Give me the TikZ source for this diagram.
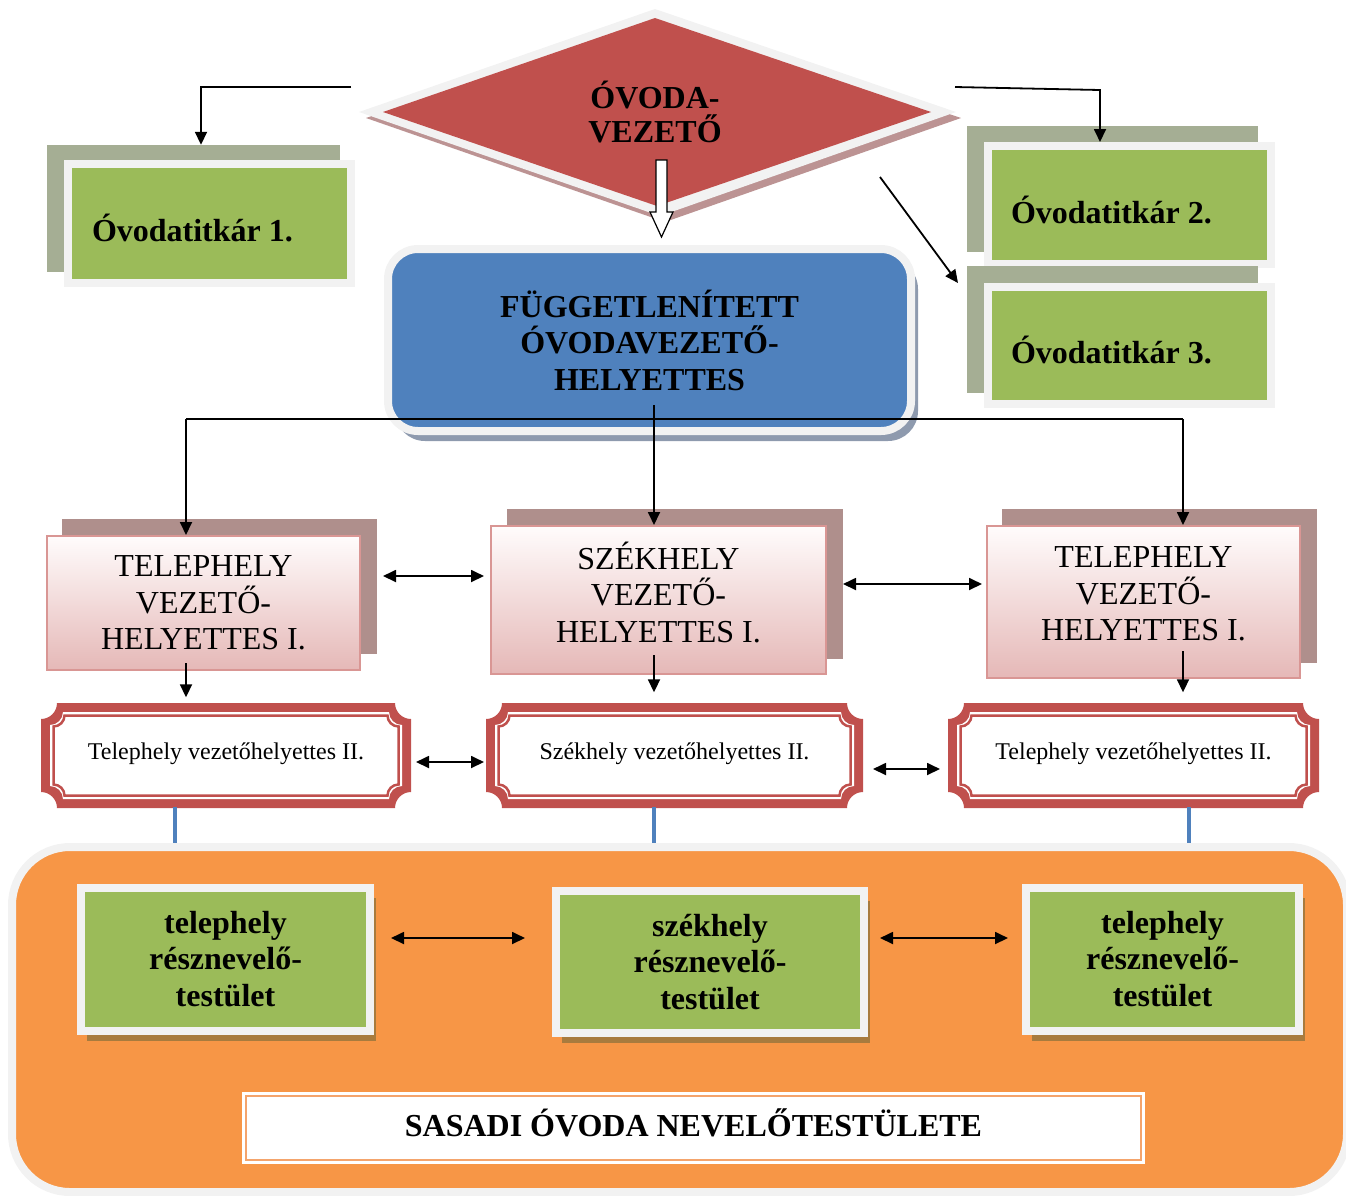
\documentclass[tikz,border=0pt]{standalone}
\usepackage{fontspec}
\setmainfont{Liberation Serif}
\usetikzlibrary{arrows.meta,shadows,calc}
\definecolor{redA}{HTML}{C0504D}
\definecolor{frm}{HTML}{F2F2F2}
\definecolor{grn}{HTML}{9BBB59}
\definecolor{gbk}{HTML}{A5AE94}
\definecolor{blu}{HTML}{4F81BD}
\definecolor{org}{HTML}{F79646}
\definecolor{ptop}{HTML}{FFFCFC}
\definecolor{pbot}{HTML}{E5B8B7}
\definecolor{pedge}{HTML}{D99694}
\definecolor{pbk}{HTML}{AF8F8C}
\definecolor{dshd}{HTML}{BC9393}
\definecolor{bshd}{HTML}{8E9AAE}
\definecolor{gshd}{HTML}{A87B3E}
\definecolor{oline}{HTML}{F4A46C}
\newcommand{\plq}[5]{(#1,#2+#5) .. controls (#1+0.55*#5,#2+#5) and (#1+#5,#2+0.55*#5) .. (#1+#5,#2) -- (#3-#5,#2) .. controls (#3-#5,#2+0.55*#5) and (#3-0.55*#5,#2+#5) .. (#3,#2+#5) -- (#3,#4-#5) .. controls (#3-0.55*#5,#4-#5) and (#3-#5,#4-0.55*#5) .. (#3-#5,#4) -- (#1+#5,#4) .. controls (#1+#5,#4-0.55*#5) and (#1+0.55*#5,#4-#5) .. (#1,#4-#5) -- cycle}
\newcommand{\plaquebg}[4]{%
  \fill[redA] \plq{#1}{#2}{#3}{#4}{16};
  \fill[white] \plq{#1+9}{#2+9}{#3-9}{#4-9}{13};
  \draw[redA, line width=2.5pt] \plq{#1+12.5}{#2+12.5}{#3-12.5}{#4-12.5}{11};}
\begin{document}
\begin{tikzpicture}[x=1pt,y=-1pt,
  big/.style={font=\fontsize{32}{36.5}\selectfont},
  bigb/.style={font=\bfseries\fontsize{32}{36.5}\selectfont},
  small/.style={font=\fontsize{24}{28}\selectfont},
  arr/.style={line width=1.8pt, -{Triangle[length=13pt,width=12pt]}},
  darr/.style={line width=1.8pt, {Triangle[length=13pt,width=12pt]}-{Triangle[length=13pt,width=12pt]}},
  plainline/.style={line width=1.8pt},
  gback/.style={fill=gbk, inner sep=0},
  gbox/.style={fill=grn, draw=frm, line width=8pt, inner sep=0, align=flush left, bigb, text height=36pt, text depth=0pt},
  gboxc/.style={fill=grn, draw=frm, line width=8pt, inner sep=0, align=center, bigb,
     drop shadow={shadow xshift=6pt, shadow yshift=-10pt, fill=gshd, opacity=1}},
  pback/.style={fill=pbk, inner sep=0},
  pbox/.style={draw=pedge, line width=2pt, top color=ptop, bottom color=pbot, inner sep=0, align=center, big},
  plaque/.style={inner sep=0, align=center, small},
  bluebox/.style={fill=blu, draw=frm, line width=8pt, rounded corners=30pt, inner sep=0, align=center, bigb,
     drop shadow={shadow xshift=7pt, shadow yshift=-10pt, fill=bshd, opacity=1}},
  bseg/.style={draw=blu, line width=4pt},
]
\useasboundingbox (0,0) rectangle (1346,1195);

% ---------- diamond ----------
\fill[dshd] (660,16) -- (961,118) -- (665,222) -- (366,118) -- cycle;
\fill[frm] (655,9) -- (956,112) -- (660,216) -- (359,112) -- cycle;
\fill[redA] (655,18) -- (931,112) -- (657,206) -- (383,112) -- cycle;
\node[bigb, align=center, font=\bfseries\fontsize{32}{34}\selectfont] (vez) at (655,112) {ÓVODA-\\VEZETŐ};
% hollow arrow
\filldraw[fill=white, draw=black, line width=1.2pt] (656,160) -- (667,160) -- (667,212) -- (673,212) -- (661.5,237) -- (650,212) -- (656,212) -- cycle;

% ---------- Óvodatitkár boxes ----------
\node[gback, minimum width=293, minimum height=127] (b1) at (193.5,208.5) {};
\node[gbox, minimum width=283, minimum height=119, text width=235] (f1) at (209.5,223.5) {Óvodatitkár 1.};
\node[gback, minimum width=291, minimum height=126] (b2) at (1112.5,189) {};
\node[gbox, minimum width=283, minimum height=118, text width=237] (f2) at (1129.5,205) {Óvodatitkár 2.};
\node[gback, minimum width=291, minimum height=127] (b3) at (1112.5,329.5) {};
\node[gbox, minimum width=283, minimum height=117, text width=237] (f3) at (1129.5,345.5) {Óvodatitkár 3.};

\coordinate (tl0) at (351,87);
\coordinate (tl1) at (201,87);
\draw[arr] (tl0) -- (tl1) -- (tl1 |- b1.north);
\coordinate (tr0) at (955,87);
\coordinate (tr1) at (1100,90);
\draw[arr] (tr0) -- (tr1) -- (tr1 |- f2.north);
\coordinate (dg0) at (880,177);
\coordinate (dg1) at (958,283);
\draw[arr] (dg0) -- (dg1);

% ---------- blue box ----------
\node[bluebox, minimum width=523, minimum height=182] (fg) at (649.5,340) {FÜGGETLENÍTETT\\ÓVODAVEZETŐ-\\HELYETTES};

% ---------- pink boxes ----------
\node[pback, minimum width=315, minimum height=135] (bL) at (219.5,586.5) {};
\node[pbox, minimum width=313, minimum height=134, text depth=-4pt] (pL) at (203.5,603) {TELEPHELY\\VEZETŐ-\\HELYETTES I.};
\node[pback, minimum width=336, minimum height=150] (bM) at (675,584) {};
\node[pbox, minimum width=335, minimum height=148, text depth=16pt] (pM) at (658.5,600) {SZÉKHELY\\VEZETŐ-\\HELYETTES I.};
\node[pback, minimum width=315, minimum height=154] (bR) at (1159.5,586) {};
\node[pbox, minimum width=313, minimum height=152, text depth=16pt] (pR) at (1143.5,602) {TELEPHELY\\VEZETŐ-\\HELYETTES I.};

% connectors from blue box
\coordinate (hL) at (186,419);
\coordinate (hR) at (1183,419);
\coordinate (vtop) at (654,405);
\draw[plainline] (hL) -- (hR);
\draw[arr] (hL) -- (hL |- pL.north);
\draw[arr] (hR) -- (hR |- pR.north);
\draw[arr] (vtop) -- (vtop |- pM.north);

\coordinate (a1) at (383,576);
\coordinate (a2) at (484,576);
\coordinate (a3) at (843,584);
\coordinate (a4) at (982,584);
\draw[darr] (a1) -- (a2);
\draw[darr] (a3) -- (a4);

% ---------- plaques ----------
\plaquebg{41}{703}{411}{808}
\plaquebg{486}{703}{863}{808}
\plaquebg{948}{703}{1319}{808}
\node[plaque, minimum width=370, minimum height=105] (qL) at (226,754) {Telephely vezetőhelyettes II.};
\node[plaque, minimum width=377, minimum height=105] (qM) at (674.5,754) {Székhely vezetőhelyettes II.};
\node[plaque, minimum width=371, minimum height=105] (qR) at (1133.5,754) {Telephely vezetőhelyettes II.};

\draw[arr] ([yshift=8pt]pL.south -| hL) -- ([yshift=4pt]qL.north -| hL);
\draw[arr] ([yshift=20pt]pM.south -| vtop) -- ([yshift=9pt]qM.north -| vtop);
\draw[arr] ([yshift=28pt]pR.south -| hR) -- ([yshift=9pt]qR.north -| hR);

\coordinate (a5) at (416,762);
\coordinate (a6) at (484,762);
\coordinate (a7) at (873,769);
\coordinate (a8) at (940,769);
\draw[darr] (a5) -- (a6);
\draw[darr] (a7) -- (a8);

% ---------- orange body ----------
\node[fill=org, draw=frm, line width=8pt, rounded corners=58pt, inner sep=0, minimum width=1335, minimum height=345] (ob) at (679.5,1019.5) {};
\draw[bseg] ([xshift=-51pt]qL.south) -- ([xshift=-51pt]qL.south |- ob.north);
\draw[bseg] ([xshift=-20.5pt]qM.south) -- ([xshift=-20.5pt]qM.south |- ob.north);
\draw[bseg] ([xshift=55.5pt]qR.south) -- ([xshift=55.5pt]qR.south |- ob.north);

\node[gboxc, minimum width=289, minimum height=143] (gL) at (225.5,959) {telephely\\résznevelő-\\testület};
\node[gboxc, minimum width=308, minimum height=142] (gM) at (710,962) {székhely\\résznevelő-\\testület};
\node[gboxc, minimum width=273, minimum height=143] (gR) at (1162.5,959) {telephely\\résznevelő-\\testület};

\coordinate (a9) at (391,938);
\coordinate (a10) at (525,938);
\coordinate (a11) at (880,938);
\coordinate (a12) at (1008,938);
\draw[darr] (a9) -- (a10);
\draw[darr] (a11) -- (a12);

\node[fill=white, draw=oline, line width=1.5pt, preaction={draw=white, line width=8pt}, inner sep=0, minimum width=895, minimum height=64, bigb, text depth=10pt] (sas) at (693.5,1128) {SASADI ÓVODA NEVELŐTESTÜLETE};
\end{tikzpicture}
\end{document}
